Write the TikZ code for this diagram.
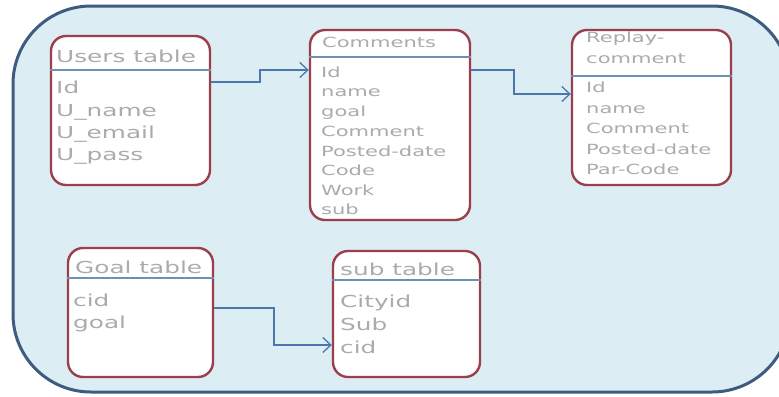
\documentclass[tikz,border=0pt]{standalone}
\usepackage{fontspec}
\usetikzlibrary{arrows.meta}
\newfontfamily\tabfont[FakeStretch=1.5]{DejaVu Sans}
\definecolor{framefill}{HTML}{DCEDF3}
\definecolor{framedraw}{HTML}{3E5B80}
\definecolor{boxdraw}{HTML}{9A3F4B}
\definecolor{hdrline}{HTML}{7090B2}
\definecolor{txtgray}{HTML}{ABABAB}
\definecolor{connblue}{HTML}{4A78AE}
\tikzset{
  tbl/.style={draw=boxdraw, line width=2.4bp, fill=white, rounded corners=15bp, inner sep=0pt},
  hdr/.style={draw=hdrline, line width=1.4bp},
  fld/.style={anchor=base west, inner sep=0pt, text=txtgray, font=\tabfont\fontsize{14bp}{16bp}\selectfont},
  bigfld/.style={fld, font=\tabfont\fontsize{16.5bp}{19bp}\selectfont},
  conn/.style={draw=connblue, line width=1.3bp, -{Straight Barb[length=8bp,width=15bp,line width=1.3bp]}}
}
\begin{document}
\begin{tikzpicture}[x=1bp,y=-1bp]
\useasboundingbox (0,0) rectangle (779,396);
\begin{scope}
\clip (0,0) rectangle (779,396);
\fill[white] (0,0) rectangle (779,396);
\draw[draw=framedraw, line width=3bp, fill=framefill, rounded corners=78bp] (13,6) rectangle (790,392);
\end{scope}
% Users table
\node[tbl, minimum width=159bp, minimum height=149bp] (users) at (130.5,110.5) {};
\draw[hdr] (users.west |- 0,70) -- (users.east |- 0,70);
\node[bigfld] (u0) at (56,62) {Users table};
\node[bigfld] (u1) at (56,93) {Id};
\node[bigfld] (u2) at (56,116) {U\_name};
\node[bigfld] (u3) at (56,138) {U\_email};
\node[bigfld] (u4) at (56,160) {U\_pass};
% Comments
\node[tbl, minimum width=160bp, minimum height=190bp] (comments) at (390,125) {};
\draw[hdr] (comments.west |- 0,57) -- (comments.east |- 0,57);
\node[fld] (c0) at (322,47) {Comments};
\node[fld] (c1) at (321,77) {Id};
\node[fld] (c2) at (321,96) {name};
\node[fld] (c3) at (321,116) {goal};
\node[fld] (c4) at (321,136) {Comment};
\node[fld] (c5) at (321,156) {Posted-date};
\node[fld] (c6) at (321,175) {Code};
\node[fld] (c7) at (321,195) {Work};
\node[fld] (c8) at (321,214) {sub};
% Replay-comment
\node[tbl, minimum width=159bp, minimum height=155bp] (replay) at (651.5,107.5) {};
\draw[hdr] (replay.west |- 0,76) -- (replay.east |- 0,76);
\node[fld] (r0) at (586,42) {Replay-};
\node[fld] (r0b) at (586,63) {comment};
\node[fld] (r1) at (586,92) {Id};
\node[fld] (r2) at (586,113) {name};
\node[fld] (r3) at (586,133) {Comment};
\node[fld] (r4) at (586,154) {Posted-date};
\node[fld] (r5) at (586,174) {Par-Code};
% Goal table
\node[tbl, minimum width=145bp, minimum height=129bp] (goal) at (140.5,312.5) {};
\draw[hdr] (goal.west |- 0,278) -- (goal.east |- 0,278);
\node[bigfld] (g0) at (75,273) {Goal table};
\node[bigfld] (g1) at (73,306) {cid};
\node[bigfld] (g2) at (73,328) {goal};
% sub table
\node[tbl, minimum width=147bp, minimum height=126bp] (sub) at (406.5,314) {};
\draw[hdr] (sub.west |- 0,280) -- (sub.east |- 0,280);
\node[bigfld] (s0) at (340,275) {sub table};
\node[bigfld] (s1) at (340,307) {Cityid};
\node[bigfld] (s2) at (340,330) {Sub};
\node[bigfld] (s3) at (340,353) {cid};
% connectors
\draw[conn] (users.east |- 0,82) -- (260,82) -- (260,70) -- (comments.west |- 0,70);
\draw[conn] (comments.east |- 0,70) -- (514,70) -- (514,94) -- (replay.west |- 0,94);
\draw[conn] (goal.east |- 0,308) -- (274,308) -- (274,345) -- (sub.west |- 0,345);
\end{tikzpicture}
\end{document}
